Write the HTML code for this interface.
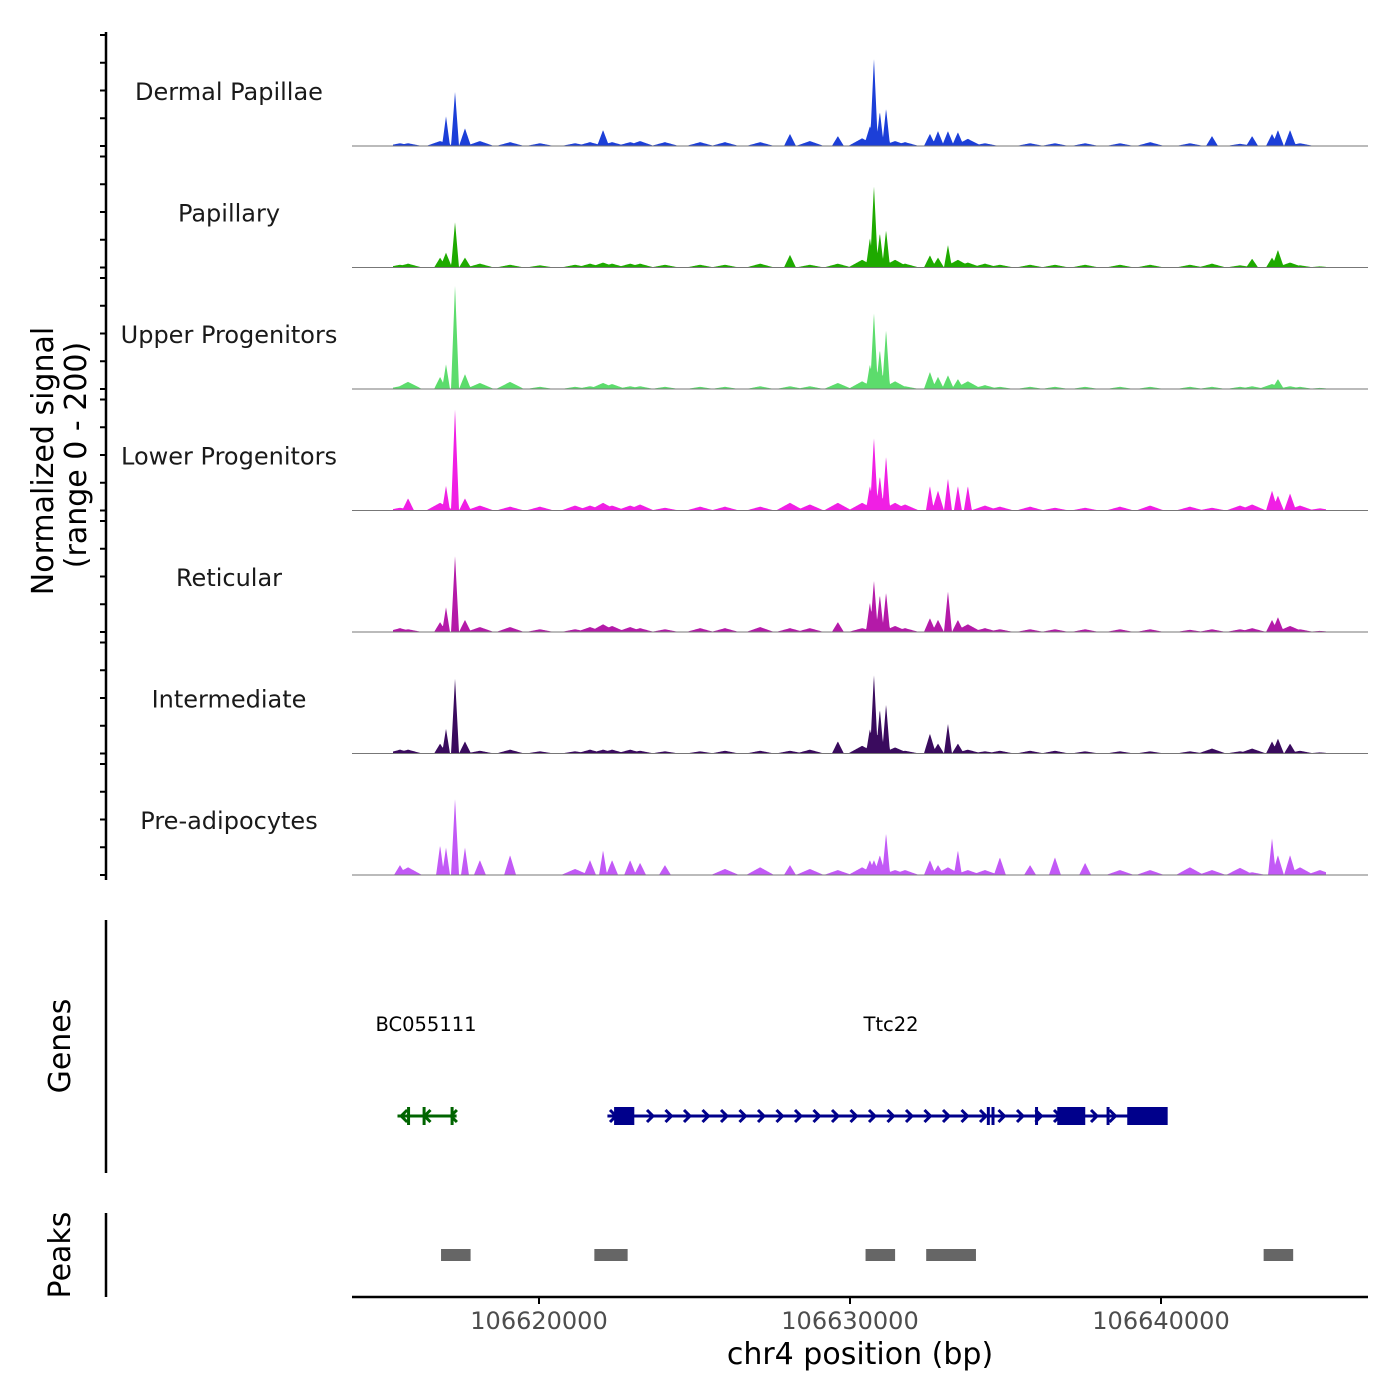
<!DOCTYPE html>
<html><head><meta charset="utf-8"><style>
html,body{margin:0;padding:0;background:#fff;}
svg{display:block;font-family:"DejaVu Sans","Liberation Sans",sans-serif;}
</style></head><body>
<svg id="chart" width="1400" height="1400" viewBox="0 0 1400 1400" xmlns="http://www.w3.org/2000/svg">
<rect width="1400" height="1400" fill="#fff"/>
<g id="tracks"></g>
<g id="yaxis"><line x1="106" y1="32" x2="106" y2="880" stroke="#000" stroke-width="2.5"/></g>
<text transform="translate(53,461) rotate(-90)" text-anchor="middle" font-size="30" fill="#000">Normalized signal</text>
<text transform="translate(86,455) rotate(-90)" text-anchor="middle" font-size="30" fill="#000">(range 0 - 200)</text>

<g>
<line x1="106" y1="920" x2="106" y2="1173" stroke="#000" stroke-width="2.5"/>
<text transform="translate(70,1046) rotate(-90)" text-anchor="middle" font-size="30">Genes</text>
<text x="426" y="1031" text-anchor="middle" font-size="19.5">BC055111</text>
<text x="891" y="1031" text-anchor="middle" font-size="19.5">Ttc22</text>
<g id="genes"></g>
</g>

<g>
<line x1="106" y1="1213" x2="106" y2="1297" stroke="#000" stroke-width="2.5"/>
<text transform="translate(70,1255) rotate(-90)" text-anchor="middle" font-size="30">Peaks</text>
<g id="peaks"></g>
</g>

<g id="xaxis">
<line x1="352" y1="1297" x2="1368" y2="1297" stroke="#000" stroke-width="2.5"/>
</g>
<text x="860" y="1364" text-anchor="middle" font-size="30">chr4 position (bp)</text>
</svg>
<script>
const positionsKb = [15.53,15.79,16.82,17.01,17.30,17.62,18.10,19.07,20.03,21.16,21.64,22.06,22.35,22.93,23.25,24.05,25.18,25.98,27.11,28.07,28.71,29.61,30.39,30.64,30.77,30.96,31.16,31.45,31.77,32.57,32.83,33.15,33.47,33.79,34.34,34.82,35.79,36.59,37.56,38.68,39.65,40.93,41.64,42.54,42.93,43.57,43.76,44.15,44.47,45.11];
const trackNames = ["Dermal Papillae","Papillary","Upper Progenitors","Lower Progenitors","Reticular","Intermediate","Pre-adipocytes"];
const trackColors = ["#1c3fd8","#1eaa00","#5cdc6c","#f01fe4","#b41aa8","#3a0b5e","#c259f6"];
const dermalPapillae = [5,5,9,54,99,32,9,7,5,5,7,29,7,7,9,7,7,7,7,22,9,18,14,36,160,63,68,9,7,22,27,27,25,13,5,0,5,5,5,5,7,5,18,4,18,22,29,29,5,0];
const papillary = [5,7,18,27,83,18,7,5,4,5,7,9,7,7,7,5,5,5,7,23,5,7,14,54,149,63,68,14,7,22,18,41,14,9,7,5,5,5,5,5,5,5,7,4,16,18,32,9,4,2];
const upperProgenitors = [5,13,22,45,189,27,11,13,4,4,5,11,9,5,5,4,4,4,5,5,5,11,14,45,139,72,108,14,5,31,22,25,18,14,7,4,4,4,4,4,4,4,4,4,5,9,18,5,4,2];
const lowerProgenitors = [5,22,14,45,185,22,9,7,7,9,9,14,9,9,11,5,7,7,7,14,11,14,14,45,133,63,99,14,11,45,36,58,45,45,9,7,7,5,5,7,9,7,5,9,11,36,27,31,9,4];
const reticular = [7,5,18,45,139,22,9,9,5,5,9,14,11,9,7,5,7,7,9,7,7,18,7,54,94,68,72,11,7,25,22,74,22,14,7,5,5,5,5,5,5,4,5,5,7,22,27,11,5,2];
const intermediate = [7,7,18,45,137,22,5,7,4,4,7,7,7,7,5,4,4,5,5,5,7,22,14,45,144,81,90,11,5,36,18,54,18,7,4,5,5,5,4,4,4,4,9,4,9,22,27,18,5,2];
const preAdipocytes = [18,14,54,50,139,50,27,36,0,11,27,45,27,27,22,18,0,11,14,18,11,9,14,27,27,36,76,9,9,27,18,14,45,9,9,32,18,32,22,9,9,14,9,13,5,67,36,36,14,9];
const seriesValues = [dermalPapillae,papillary,upperProgenitors,lowerProgenitors,reticular,intermediate,preAdipocytes];
const xTicks = [106620000,106630000,106640000];
const peakStartsKb = [16.85,21.78,30.5,32.45,43.3];
const peakEndsKb = [17.8,22.85,31.45,34.05,44.25];
const bcExonsKb = [[15.5,15.55],[16.0,16.05],[16.9,16.95]];
const ttcExonsKb = [[22.35,23.0],[36.6,37.5],[38.85,40.15]];
const ttcMarksKb = [34.4,34.55,35.95,38.25];

const NS="http://www.w3.org/2000/svg";
const X0=106600000;
const xScale = g => 539 + (g-106620000)*311/10000;
const xKb = kb => xScale(X0+kb*1000);
const yScale = (v,base) => base - v*110/200;
function mk(tag,attrs,parent){const e=document.createElementNS(NS,tag);for(const k in attrs)e.setAttribute(k,attrs[k]);parent.appendChild(e);return e;}

const tracksG=document.getElementById('tracks');
const yaxisG=document.getElementById('yaxis');
seriesValues.forEach((vals,i)=>{
  const base=146+i*121.5;
  const g=mk('g',{},tracksG);
  
  
  const lbl=mk('text',{x:229,y:base-46,'text-anchor':'middle','font-size':24,fill:'#1a1a1a'},g);
  lbl.textContent=trackNames[i];
  
  
  const pxs=positionsKb.map(xKb);
  const xmin=Math.floor(pxs[0]-6), xmax=Math.ceil(pxs[pxs.length-1]+6);
  let d='M'+xmin+','+base;
  for(let x=xmin;x<=xmax;x+=0.5){
    let v=0;
    pxs.forEach((p,j)=>{const w=vals[j]>40?4:(vals[j]>15?6:14);const c=vals[j]*(1-Math.abs(x-p)/w);if(c>v)v=c;});
    d+=' L'+x+','+yScale(v,base).toFixed(2);
  }
  d+=' L'+xmax+','+base+' Z';
  const area=mk('path',{d:d,fill:trackColors[i],stroke:'none'},g);
  
  
  const bl=mk('line',{x1:352,x2:1368,y1:base,y2:base,stroke:'#777','stroke-width':1},g);
  
  
  for(let k=0;k<=4;k++){
    const y=base-k*27.75;
    const t=mk('line',{x1:100,x2:106,y1:y,y2:y,stroke:'#000','stroke-width':2},yaxisG);
    
    
  }
});

const genesG=document.getElementById('genes');
const gy=1116;
let l=mk('line',{x1:xKb(15.45),x2:xKb(17.35),y1:gy,y2:gy,stroke:'#006400','stroke-width':3},genesG);


[15.6,16.35,17.2].forEach(kb=>{const x=xKb(kb);const c=mk('path',{d:`M${x+5},${gy-6} L${x-1},${gy} L${x+5},${gy+6}`,fill:'none',stroke:'#006400','stroke-width':3},genesG);});
bcExonsKb.forEach(e=>{const r=mk('rect',{x:xKb(e[0])+8,y:gy-9,width:3,height:18,fill:'#006400'},genesG);});
l=mk('line',{x1:xKb(22.2),x2:xKb(40.15),y1:gy,y2:gy,stroke:'#00008b','stroke-width':3},genesG);


for(let x=613;x<1160;x+=18.5){
  if((x>614&&x<640)||(x>1058&&x<1090)||(x>1126))continue;
  const c=mk('path',{d:`M${x-3},${gy-6} L${x+3},${gy} L${x-3},${gy+6}`,fill:'none',stroke:'#00008b','stroke-width':3},genesG);
  
  
}
ttcExonsKb.forEach(e=>{const r=mk('rect',{x:xKb(e[0])+2,y:gy-9,width:xKb(e[1])-xKb(e[0]),height:18,fill:'#00008b'},genesG);});
ttcMarksKb.forEach(kb=>{const r=mk('rect',{x:xKb(kb),y:gy-9,width:3,height:18,fill:'#00008b'},genesG);});

const peaksG=document.getElementById('peaks');
peakStartsKb.forEach((s,i)=>{
  const r=mk('rect',{x:xKb(s),y:1249,width:xKb(peakEndsKb[i])-xKb(s),height:12,fill:'#666'},peaksG);
  
  
});

const xaxisG=document.getElementById('xaxis');
xTicks.forEach(t=>{
  const x=xScale(t);
  const tk=mk('line',{x1:x,x2:x,y1:1297,y2:1304,stroke:'#000','stroke-width':2},xaxisG);
  
  
  const tl=mk('text',{x:x,y:1329,'text-anchor':'middle','font-size':24,fill:'#4d4d4d'},xaxisG);
  tl.textContent=t;
  
  
});
</script>
</body></html>
